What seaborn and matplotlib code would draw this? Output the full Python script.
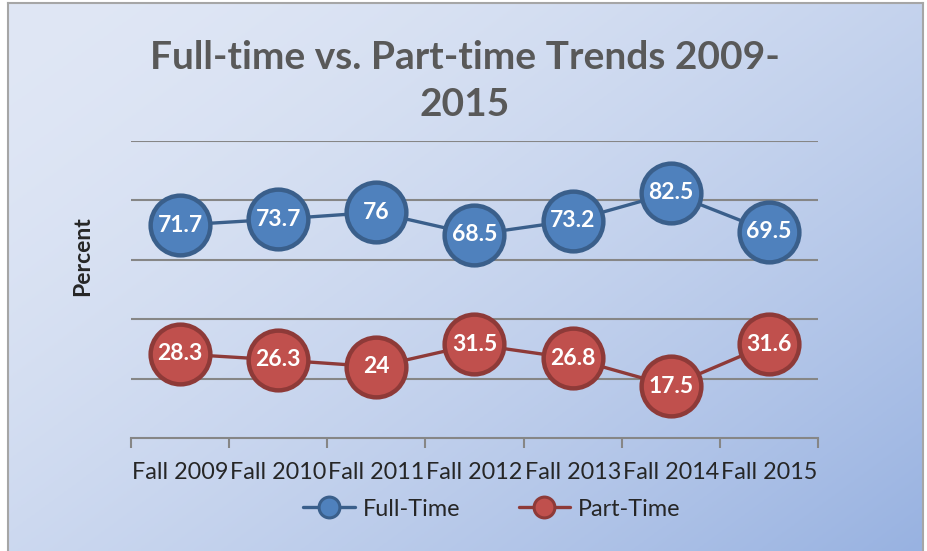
import numpy as np
import matplotlib.pyplot as plt
from matplotlib.lines import Line2D
import seaborn as sns
import pandas as pd

# data
terms = ['Fall 2009', 'Fall 2010', 'Fall 2011', 'Fall 2012', 'Fall 2013', 'Fall 2014', 'Fall 2015']
full_time = [71.7, 73.7, 76, 68.5, 73.2, 82.5, 69.5]
part_time = [28.3, 26.3, 24, 31.5, 26.8, 17.5, 31.6]

df = pd.DataFrame({'term': terms * 2,
                   'pct': full_time + part_time,
                   'series': ['Full-Time'] * 7 + ['Part-Time'] * 7})

sns.set_style('white')
plt.rcParams['font.family'] = ['Lato', 'DejaVu Sans']

W, H = 928, 551
fig = plt.figure(figsize=(W / 100, H / 100), dpi=100)

# gradient background with a thin gray frame
bg = fig.add_axes([8 / W, 0, (923 - 8) / W, 1 - 3 / H])
xx, yy = np.meshgrid(np.linspace(0, 1, 200), np.linspace(0, 1, 200))
t = np.clip(0.55 * xx + 0.45 * yy, 0, 1) ** 1.6
c0 = np.array([224, 231, 245]) / 255
c1 = np.array([152, 178, 225]) / 255
img = c0[None, None, :] * (1 - t[..., None]) + c1[None, None, :] * t[..., None]
bg.imshow(img, aspect='auto', extent=[0, 1, 1, 0])
bg.set_xticks([])
bg.set_yticks([])
for s in bg.spines.values():
    s.set_color('#a6a6a6')
    s.set_linewidth(1.5)
bg.spines['bottom'].set_visible(False)

ax = fig.add_axes([131 / W, 1 - 438 / H, (818 - 131) / W, (438 - 141) / H])
ax.patch.set_alpha(0)

styles = {'Full-Time': ('#4f81bd', '#3a5f8b'), 'Part-Time': ('#c0504d', '#8e3a38')}
for name, (face, edge) in styles.items():
    sub = df[df.series == name]
    sns.lineplot(data=sub, x='term', y='pct', ax=ax, color=edge, lw=2.4,
                 zorder=2, legend=False)
    sns.scatterplot(data=sub, x='term', y='pct', ax=ax, color=face, s=43 ** 2,
                    edgecolor=edge, linewidth=3.2, zorder=3, legend=False)
    for i, v in enumerate(sub.pct):
        ax.text(i, v, f'{v:g}', ha='center', va='center', color='white',
                fontsize=16.5, fontweight='bold', zorder=4)

ax.set_xlim(-0.5, 6.5)
ax.set_ylim(0, 100)
ax.set_yticks([20, 40, 60, 80, 100])
ax.set_yticklabels([])
ax.yaxis.grid(True, color='#868686', lw=1.5)
ax.set_axisbelow(True)
ax.tick_params(axis='y', length=0)
ax.set_xticks(range(7))
ax.set_xticklabels(terms, fontsize=16.8)
ax.tick_params(axis='x', which='major', length=0, pad=17)
ax.set_xticks(np.arange(-0.5, 7, 1), minor=True)
ax.tick_params(axis='x', which='minor', bottom=True, length=7, width=1.5,
               color='#868686', direction='out')
for s in ['left', 'right', 'top']:
    ax.spines[s].set_visible(False)
ax.spines['bottom'].set_color('#868686')
ax.spines['bottom'].set_linewidth(1.5)
ax.set_xlabel('')
ax.set_ylabel('Percent', fontsize=16.5, fontweight='bold')
ax.yaxis.set_label_coords((93 - 131) / 687, (438 - 256) / 297)

fig.text(465 / W, 1 - 81 / H, 'Full-time vs. Part-time Trends 2009-\n2015',
         ha='center', va='center', fontsize=28, fontweight='bold',
         color='#595959', linespacing=1.4)

handles = [Line2D([], [], color=edge, lw=2.4, marker='o', markersize=15,
                  markerfacecolor=face, markeredgecolor=edge, markeredgewidth=2.2)
           for face, edge in styles.values()]
ax.legend(handles, list(styles), loc='center', bbox_to_anchor=(492 / W, 1 - 509 / H),
          bbox_transform=fig.transFigure, ncol=2, frameon=False, fontsize=16.8,
          handlelength=2.2, columnspacing=2.5, handletextpad=0.35)

fig.savefig('out.png', dpi=100)
